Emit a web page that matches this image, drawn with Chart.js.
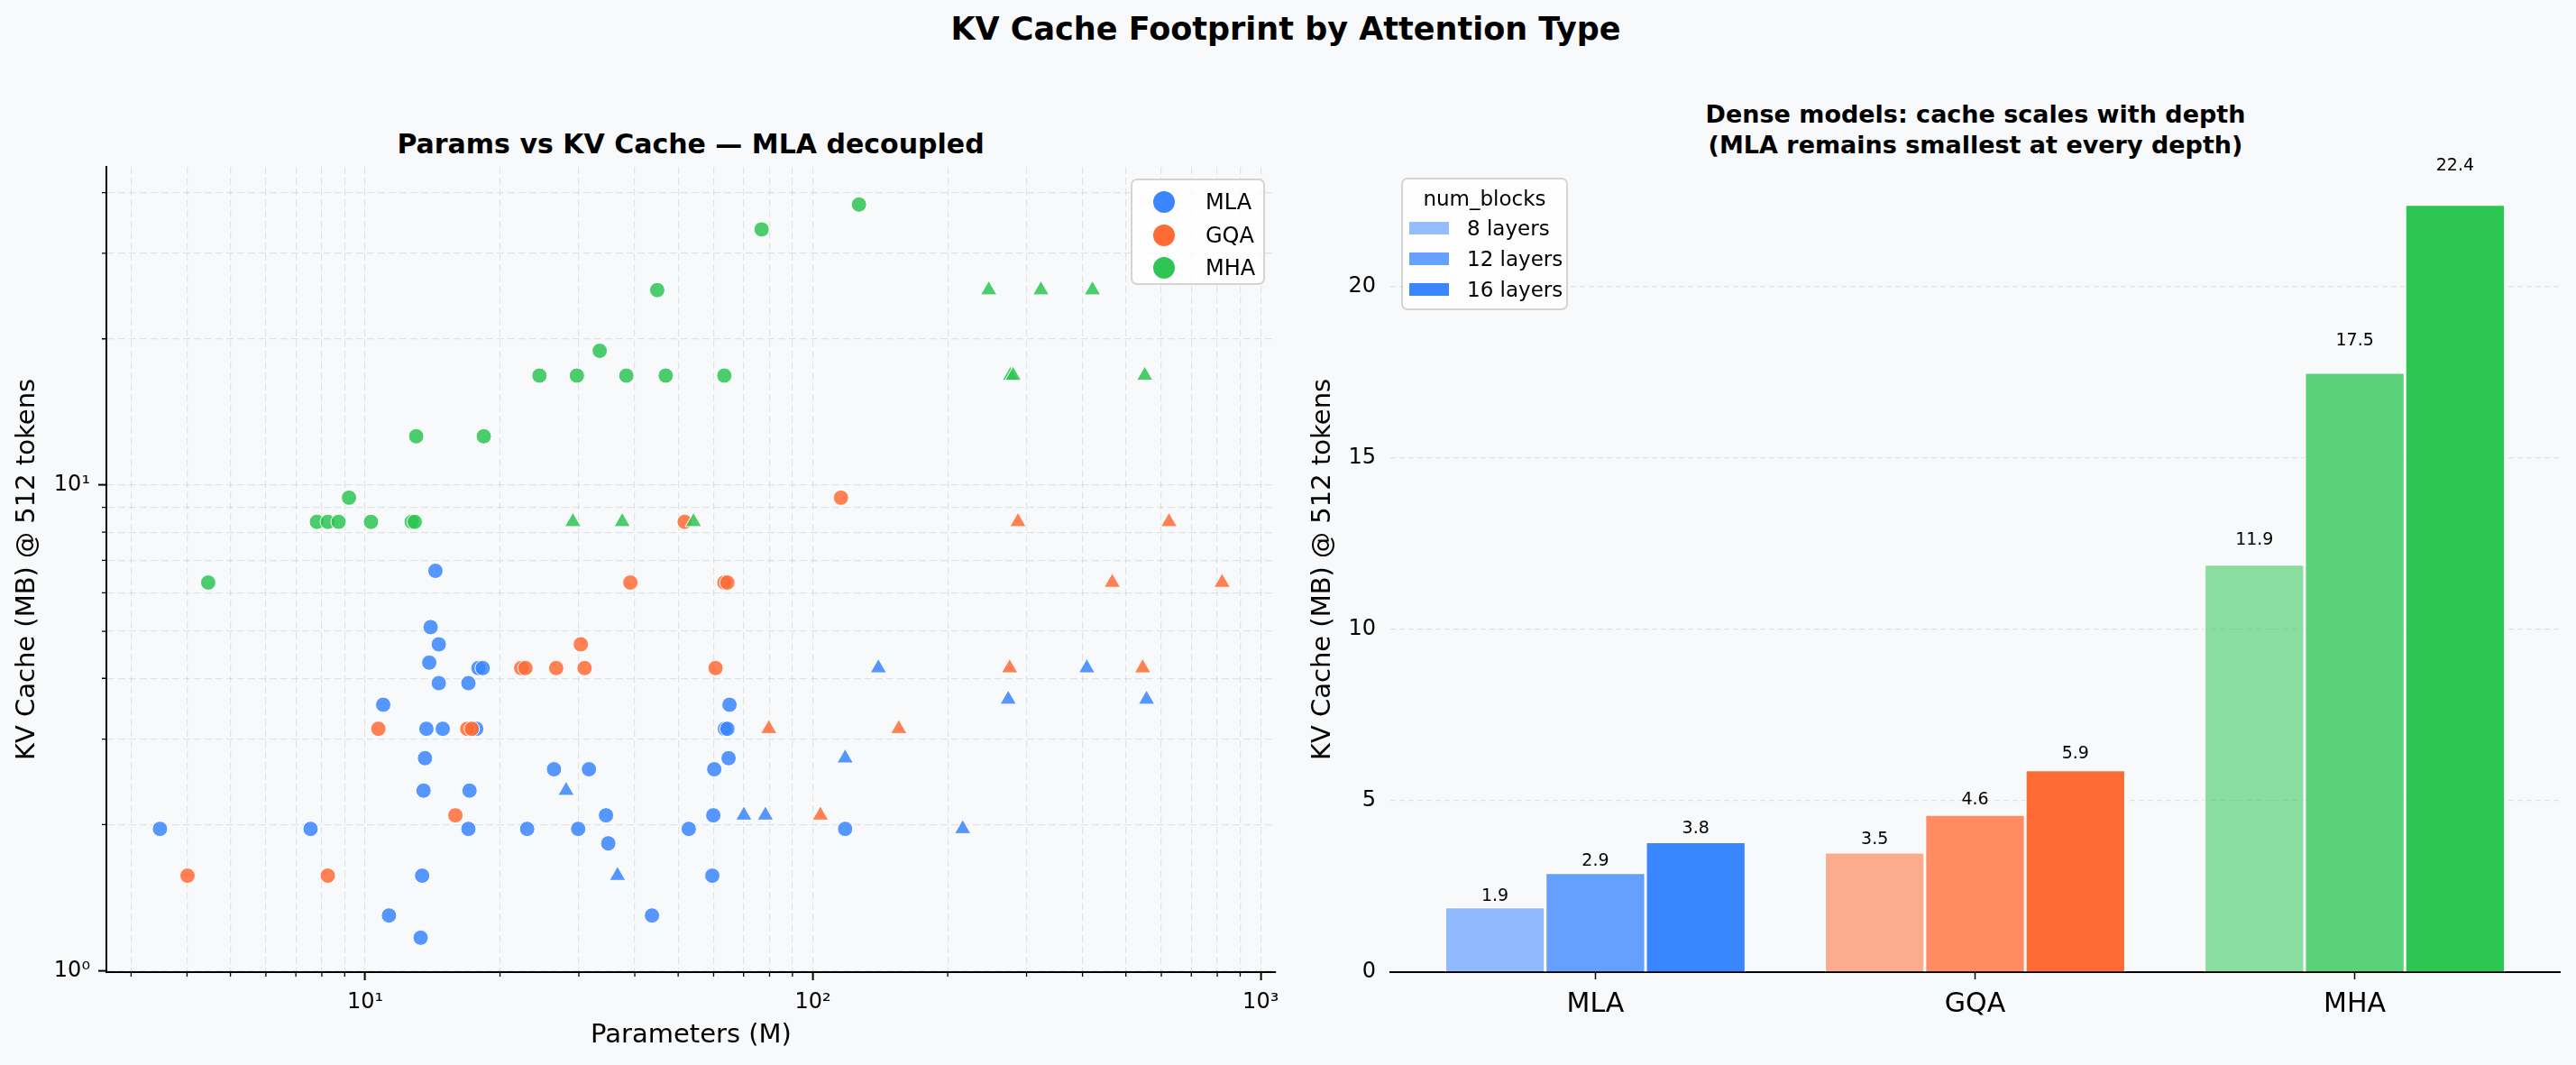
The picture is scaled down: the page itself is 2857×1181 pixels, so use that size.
<!DOCTYPE html>
<html>
<head>
<meta charset="utf-8">
<script src="https://cdn.jsdelivr.net/npm/chart.js@4.4.1/dist/chart.umd.min.js"></script>
<style>
    html, body { margin: 0; padding: 0; background: #f8f9fa; }
    body { width: 2857px; height: 1181px; position: relative; overflow: hidden; font-family: 'DejaVu Sans', sans-serif; color: #000; }
    canvas { position: absolute; top: 0; }
    .title { position: absolute; white-space: nowrap; font-weight: bold; line-height: 1; transform: translateX(-50%); text-align: center; }
    .legendBox { position: absolute; box-sizing: border-box; background: rgba(255,255,255,0.8); border: 2px solid #d4d4d4; border-radius: 7px; z-index: 2; }
    .legendRow { position: absolute; left: 0; height: 30px; line-height: 30px; white-space: nowrap; }
    .legendDot { position: absolute; width: 24px; height: 24px; border-radius: 50%; top: 3px; }
    .legendPatch { position: absolute; width: 44px; height: 14px; top: 8px; }
</style>
</head>
<body>
<div class="title" style="left:1426px; top:15px; font-size:35px;">KV Cache Footprint by Attention Type</div>
<div class="title" style="left:766px; top:145px; font-size:30px;">Params vs KV Cache — MLA decoupled</div>
<div class="title" style="left:2191px; top:110px; font-size:27px; line-height:34px;">Dense models: cache scales with depth<br>(MLA remains smallest at every depth)</div>

<canvas id="scatterChart" width="1440" height="1181" style="left:0; width:1440px; height:1181px;"></canvas>
<canvas id="barChart" width="1417" height="1181" style="left:1440px; width:1417px; height:1181px;"></canvas>

<div id="scatterLegend" class="legendBox" style="left:1254px; top:198px; width:149px; height:118px;"></div>
<div id="barLegend" class="legendBox" style="left:1554px; top:197px; width:185px; height:147px;"></div>

<script>
Chart.defaults.font.family = "'DejaVu Sans', sans-serif";
Chart.defaults.color = '#000';

const attentionTypes = ['MLA', 'GQA', 'MHA'];
const typeColors = ['#3A86FF', '#FF6B35', '#2DC653'];

// left panel: params (M) vs KV cache (MB); dense models = circles, MoE = triangles
const mlaDenseParams = [3.48, 7.55, 17.0, 23.0, 29.9, 52.8, 118, 14.35, 14.0, 14.6, 13.9, 17.9, 18.3, 14.6, 17.0, 10.97, 65.1, 13.7, 14.9, 17.7, 63.6, 64.4, 13.6, 64.8, 26.4, 31.6, 60.2, 13.5, 17.1, 34.5, 59.9, 34.9, 13.4, 59.6, 11.3, 43.7, 13.3];
const mlaDenseCache = [1.96, 1.96, 1.96, 1.96, 1.96, 1.96, 1.96, 6.66, 5.10, 4.70, 4.31, 4.2, 4.2, 3.91, 3.91, 3.53, 3.53, 3.15, 3.15, 3.15, 3.15, 3.15, 2.74, 2.74, 2.6, 2.6, 2.6, 2.35, 2.35, 2.09, 2.09, 1.83, 1.57, 1.57, 1.30, 1.30, 1.17];
const mlaMoeParams = [28.1, 36.6, 70.1, 78.3, 118, 140, 216, 273, 409, 556];
const mlaMoeCache = [2.35, 1.57, 2.09, 2.09, 2.74, 4.2, 1.96, 3.62, 4.2, 3.62];

const gqaDenseParams = [4.01, 8.25, 10.7, 15.9, 16.9, 17.3, 22.3, 22.8, 26.7, 30.9, 30.3, 39.1, 60.6, 63.4, 64.4, 51.7, 115.5];
const gqaDenseCache = [1.57, 1.57, 3.15, 2.09, 3.15, 3.15, 4.2, 4.2, 4.2, 4.2, 4.7, 6.3, 4.2, 6.3, 6.3, 8.4, 9.42];
const gqaMoeParams = [79.7, 103.9, 155.5, 275, 287, 466, 545, 624, 820];
const gqaMoeCache = [3.15, 2.09, 3.15, 4.2, 8.4, 6.3, 4.2, 8.4, 6.3];

const mhaDenseParams = [4.46, 7.8, 8.25, 8.72, 9.2, 10.3, 12.7, 12.9, 13.0, 18.4, 24.5, 29.7, 38.3, 46.9, 63.4, 33.4, 44.9, 76.8, 126.7];
const mhaDenseCache = [6.3, 8.4, 8.4, 8.4, 9.42, 8.4, 8.4, 8.4, 12.6, 12.6, 16.8, 16.8, 16.8, 16.8, 16.8, 18.9, 25.2, 33.6, 37.8];
const mhaMoeParams = [29.1, 37.5, 54.1, 247, 323, 421, 276, 280, 551];
const mhaMoeCache = [8.4, 8.4, 8.4, 25.2, 25.2, 25.2, 16.8, 16.8, 16.8];

const xTickValues = [3, 4, 5, 6, 7, 8, 9, 10, 20, 30, 40, 50, 60, 70, 80, 90, 100, 200, 300, 400, 500, 600, 700, 800, 900, 1000];
const yTickValues = [1, 2, 3, 4, 5, 6, 7, 8, 9, 10, 20, 30, 40];

// right panel: dense models, cache per depth
const depthLabels = ['8 layers', '12 layers', '16 layers'];
const depthAlpha = [0.55, 0.775, 1];
const cache8Layers = [1.9, 3.5, 11.9];
const cache12Layers = [2.9, 4.6, 17.5];
const cache16Layers = [3.8, 5.9, 22.4];
const depthValues = [cache8Layers, cache12Layers, cache16Layers];

function hexToRgba(hex, alpha) {
    const n = parseInt(hex.slice(1), 16);
    return `rgba(${(n >> 16) & 255}, ${(n >> 8) & 255}, ${n & 255}, ${alpha})`;
}
function isPow10(v) {
    const l = Math.log10(v);
    return Math.abs(l - Math.round(l)) < 1e-9;
}
const supDigits = ['⁰', '¹', '²', '³', '⁴'];
function powLabel(v) {
    if (!isPow10(v)) return '';
    return '10' + supDigits[Math.round(Math.log10(v))];
}
function toPoints(xs, ys) {
    return xs.map((x, i) => ({ x: x, y: ys[i] }));
}

const scatterGroups = [
    { type: 0, style: 'circle', params: mlaDenseParams, cache: mlaDenseCache },
    { type: 0, style: 'triangle', params: mlaMoeParams, cache: mlaMoeCache },
    { type: 1, style: 'circle', params: gqaDenseParams, cache: gqaDenseCache },
    { type: 1, style: 'triangle', params: gqaMoeParams, cache: gqaMoeCache },
    { type: 2, style: 'circle', params: mhaDenseParams, cache: mhaDenseCache },
    { type: 2, style: 'triangle', params: mhaMoeParams, cache: mhaMoeCache }
];

const minorTicks = {
    id: 'minorTicks',
    afterDraw(chart) {
        const { ctx, chartArea } = chart;
        const x = chart.scales.x;
        const y = chart.scales.y;
        ctx.save();
        ctx.strokeStyle = '#000';
        ctx.lineWidth = 1.3;
        ctx.beginPath();
        x.ticks.forEach(t => {
            if (isPow10(t.value)) return;
            const px = x.getPixelForValue(t.value);
            ctx.moveTo(px, chartArea.bottom);
            ctx.lineTo(px, chartArea.bottom + 5);
        });
        y.ticks.forEach(t => {
            if (isPow10(t.value)) return;
            const py = y.getPixelForValue(t.value);
            ctx.moveTo(chartArea.left, py);
            ctx.lineTo(chartArea.left - 5, py);
        });
        ctx.stroke();
        ctx.restore();
    }
};

new Chart(document.getElementById('scatterChart'), {
    type: 'scatter',
    data: {
        datasets: scatterGroups.map((g, i) => ({
            label: attentionTypes[g.type],
            data: toPoints(g.params, g.cache),
            pointStyle: g.style,
            pointRadius: g.style === 'circle' ? 8.5 : 10.5,
            backgroundColor: hexToRgba(typeColors[g.type], 0.85),
            borderColor: '#ffffff',
            borderWidth: 1,
            order: scatterGroups.length - i
        }))
    },
    options: {
        responsive: false,
        animation: false,
        devicePixelRatio: 1,
        layout: { padding: { left: 0, right: 25, top: 185, bottom: 0 } },
        plugins: { legend: { display: false }, tooltip: { enabled: false } },
        scales: {
            x: {
                type: 'logarithmic',
                min: 2.642,
                max: 1081,
                afterBuildTicks: scale => { scale.ticks = xTickValues.map(v => ({ value: v, major: isPow10(v) })); },
                afterFit: scale => { scale.height = 103; },
                ticks: { autoSkip: false, maxRotation: 0, minRotation: 0, padding: 10, font: { size: 24 }, color: '#000', callback: v => powLabel(v) },
                grid: {
                    color: 'rgba(0,0,0,0.085)',
                    lineWidth: 1.2,
                    tickLength: 9,
                    tickWidth: 2,
                    tickColor: ctx => (ctx.tick && isPow10(ctx.tick.value)) ? '#000' : 'rgba(0,0,0,0)'
                },
                border: { display: true, color: '#000', width: 2, dash: [8, 4] },
                title: { display: true, text: 'Parameters (M)', font: { size: 29 }, color: '#000', padding: { bottom: 15 } }
            },
            y: {
                type: 'logarithmic',
                min: 0.994,
                max: 45.2,
                afterBuildTicks: scale => { scale.ticks = yTickValues.map(v => ({ value: v, major: isPow10(v) })); },
                afterFit: scale => { scale.width = 118; },
                ticks: { autoSkip: false, padding: 9, font: { size: 24 }, color: '#000', callback: v => powLabel(v) },
                grid: {
                    color: 'rgba(0,0,0,0.085)',
                    lineWidth: 1.2,
                    tickLength: 9,
                    tickWidth: 2,
                    tickColor: ctx => (ctx.tick && isPow10(ctx.tick.value)) ? '#000' : 'rgba(0,0,0,0)'
                },
                border: { display: true, color: '#000', width: 2, dash: [8, 4] },
                title: { display: true, text: 'KV Cache (MB) @ 512 tokens', font: { size: 29 }, color: '#000', padding: { top: 13 } }
            }
        }
    },
    plugins: [minorTicks]
});

const barValues = {
    id: 'barValues',
    afterDatasetsDraw(chart) {
        const { ctx } = chart;
        const yScale = chart.scales.y;
        ctx.save();
        ctx.font = "19px 'DejaVu Sans'";
        ctx.fillStyle = '#000';
        ctx.textAlign = 'center';
        ctx.textBaseline = 'alphabetic';
        chart.data.datasets.forEach((ds, i) => {
            chart.getDatasetMeta(i).data.forEach((bar, j) => {
                const v = ds.data[j].y;
                ctx.fillText(v.toFixed(1), bar.x, yScale.getPixelForValue(v * 1.04 + 0.1));
            });
        });
        ctx.restore();
    }
};

new Chart(document.getElementById('barChart'), {
    type: 'bar',
    data: {
        datasets: depthLabels.map((label, i) => ({
            label: label,
            data: depthValues[i].map((v, j) => ({ x: j, y: v })),
            backgroundColor: typeColors.map(c => hexToRgba(c, depthAlpha[i])),
            borderColor: '#ffffff',
            borderWidth: 1.5,
            barPercentage: 1,
            categoryPercentage: 0.793
        }))
    },
    options: {
        responsive: false,
        animation: false,
        devicePixelRatio: 1,
        layout: { padding: { left: 0, right: 18, top: 185, bottom: 0 } },
        plugins: { legend: { display: false }, tooltip: { enabled: false } },
        scales: {
            x: {
                type: 'linear',
                min: -0.54,
                max: 2.54,
                offset: false,
                afterBuildTicks: scale => { scale.ticks = attentionTypes.map((t, i) => ({ value: i })); },
                afterFit: scale => { scale.height = 103; },
                ticks: { autoSkip: false, maxRotation: 0, padding: 10, font: { size: 30 }, color: '#000', callback: v => attentionTypes[v] },
                grid: { display: true, offset: false, drawOnChartArea: false, drawTicks: true, tickLength: 8, tickWidth: 1.5, tickColor: '#000' },
                border: { display: true, color: '#000', width: 2 }
            },
            y: {
                min: 0,
                max: 23.5,
                afterFit: scale => { scale.width = 102; },
                ticks: { stepSize: 5, includeBounds: false, padding: 16, font: { size: 24 }, color: '#000' },
                grid: {
                    drawTicks: false,
                    lineWidth: 1.2,
                    color: ctx => (ctx.tick && ctx.tick.value === 0) ? 'rgba(0,0,0,0)' : 'rgba(0,0,0,0.085)'
                },
                border: { display: false, dash: [6, 4] },
                title: { display: true, text: 'KV Cache (MB) @ 512 tokens', font: { size: 29 }, color: '#000', padding: { top: 10 } }
            }
        }
    },
    plugins: [barValues]
});

// legends
const scatterLegend = document.getElementById('scatterLegend');
attentionTypes.forEach((name, i) => {
    const row = document.createElement('div');
    row.className = 'legendRow';
    row.style.top = (9 + i * 36.5) + 'px';
    row.style.width = '100%';
    row.innerHTML = `<span class="legendDot" style="left:23px; background:${typeColors[i]}"></span>` +
        `<span style="position:absolute; left:81px; font-size:24px;">${name}</span>`;
    scatterLegend.appendChild(row);
});

const barLegend = document.getElementById('barLegend');
const legendTitle = document.createElement('div');
legendTitle.textContent = 'num_blocks';
legendTitle.style.cssText = 'position:absolute; left:0; width:100%; text-align:center; top:6px; font-size:23px; line-height:30px;';
barLegend.appendChild(legendTitle);
depthLabels.forEach((name, i) => {
    const row = document.createElement('div');
    row.className = 'legendRow';
    row.style.top = (38.5 + i * 34.3) + 'px';
    row.style.width = '100%';
    row.innerHTML = `<span class="legendPatch" style="left:7px; background:${hexToRgba(typeColors[0], depthAlpha[i])}"></span>` +
        `<span style="position:absolute; left:71px; font-size:23px;">${name}</span>`;
    barLegend.appendChild(row);
});
</script>
</body>
</html>
